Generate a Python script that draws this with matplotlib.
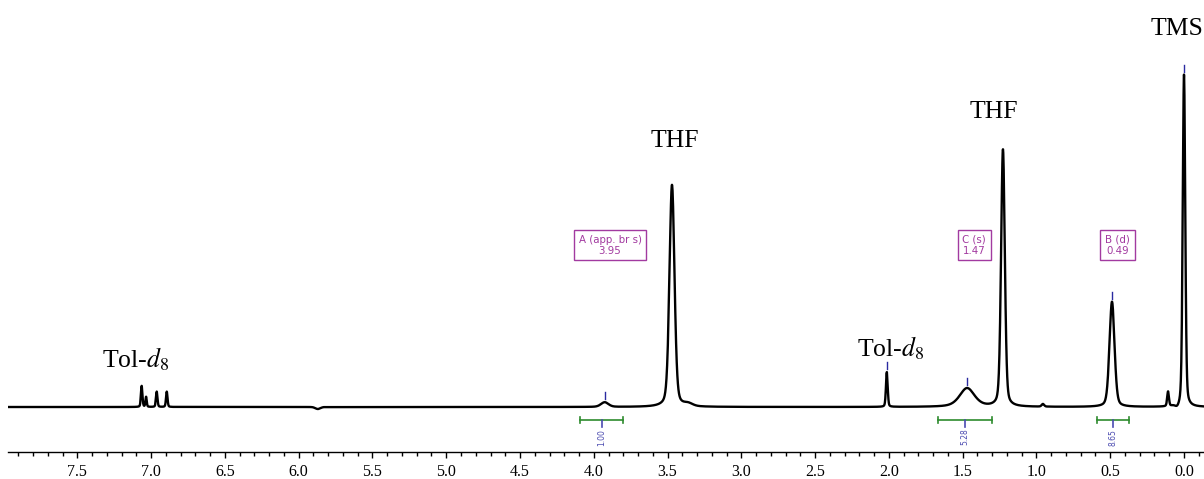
import numpy as np
import matplotlib.pyplot as plt
from matplotlib.ticker import MultipleLocator, FormatStrFormatter

plt.rcParams['font.family'] = ['Liberation Serif', 'DejaVu Serif']
plt.rcParams['mathtext.fontset'] = 'stix'

# --- peak list (TMS = 100) ---
peak_ppm    = [7.064, 7.034, 6.962, 6.894, 5.870, 3.926, 3.470, 3.360, 2.014,
               1.470, 1.227, 0.956, 0.488, 0.108, 0.045, 0.000]
peak_height = [6.3, 3.0, 4.6, 4.6, -0.6, 1.4, 66.5, 0.8, 10.4,
               5.6, 77.0, 0.8, 31.5, 4.4, -0.9, 99.5]
peak_hwhm   = [0.006, 0.005, 0.006, 0.006, 0.02, 0.03, 0.02, 0.035, 0.007,
               0.06, 0.015, 0.01, 0.02, 0.007, 0.015, 0.01]
peak_eta    = [0.3, 0.3, 0.3, 0.3, 0.0, 0.3, 0.3, 0.3, 0.3,
               0.5, 0.3, 0.3, 0.3, 0.3, 0.0, 0.3]

# solvent / reference labels
label_text = ['TMS', 'THF', 'THF', r'Tol-$d_8$', r'Tol-$d_8$']
label_ppm  = [0.047, 3.452, 1.289, 7.106, 1.986]
label_y    = [111.4, 77.9, 86.6, 12.0, 15.1]

# multiplet boxes
mult_text = ['A (app. br s)\n3.95', 'C (s)\n1.47', 'B (d)\n0.49']
mult_ppm  = [3.890, 1.422, 0.451]
mult_y    = [48.4, 48.4, 48.4]

# integrals
int_start = [4.093, 1.665, 0.592]
int_end   = [3.802, 1.303, 0.373]
int_value = ['1.00', '5.28', '8.65']

# picked peaks
pick_ppm = [3.926, 2.014, 1.470, 0.488, 0.000]

# --- build the trace from the peak list ---
ppm = np.linspace(-0.15, 8.0, 20000)
spec = np.zeros_like(ppm)
for p, h, w, eta in zip(peak_ppm, peak_height, peak_hwhm, peak_eta):
    d2 = ((ppm - p) / w) ** 2
    spec += h * (eta / (1 + d2) + (1 - eta) * np.exp(-np.log(2) * d2))

fig = plt.figure(figsize=(12.04, 4.79), dpi=100)
ax = fig.add_axes([8 / 1204, 27 / 479, 1 - 8 / 1204, 1 - 27 / 479])

ax.plot(ppm, spec, color='black', lw=1.7)
ax.set_xlim(7.970, -0.1355)
ax.set_ylim(-13.47, 121.86)

for s in ('left', 'right', 'top'):
    ax.spines[s].set_visible(False)
ax.spines['bottom'].set_linewidth(1.0)
ax.set_yticks([])
ax.xaxis.set_major_locator(MultipleLocator(0.5))
ax.xaxis.set_minor_locator(MultipleLocator(0.1))
ax.xaxis.set_major_formatter(FormatStrFormatter('%.1f'))
ax.tick_params(axis='x', which='major', direction='out', length=4, width=1,
               labelsize=11.5, pad=5)
ax.tick_params(axis='x', which='minor', direction='out', length=3, width=1)

# labels
for t, x, y in zip(label_text, label_ppm, label_y):
    ax.text(x, y, t, ha='center', va='baseline', fontsize=18.5, color='black')

# peak picks
for p in pick_ppm:
    top = spec[np.abs(ppm - p) < 0.01].max()
    ax.plot([p, p], [top + 0.9, top + 3.0], color='#2a2aa0', lw=1.0)

# multiplet boxes
purple = '#a23aa0'
for t, x, y in zip(mult_text, mult_ppm, mult_y):
    ax.text(x, y, t, ha='center', va='center', fontsize=7.4, color=purple,
            family='DejaVu Sans', linespacing=1.1,
            bbox=dict(boxstyle='square,pad=0.45', fc='white', ec=purple, lw=1.0))

# integrals
green = '#2e8b2e'
for a, b, v in zip(int_start, int_end, int_value):
    ax.plot([a, b], [-3.9, -3.9], color=green, lw=1.2)
    ax.plot([a, a], [-4.8, -3.0], color=green, lw=1.2)
    ax.plot([b, b], [-4.8, -3.0], color=green, lw=1.2)
    c = (a + b) / 2
    ax.plot([c, c], [-3.9, -6.0], color='#4a4ab0', lw=1.2)
    ax.text(c, -6.5, v, ha='center', va='top', rotation=90, fontsize=5.5,
            family='DejaVu Sans', color='#4a4ab0')

fig.savefig('out.png', dpi=100)
